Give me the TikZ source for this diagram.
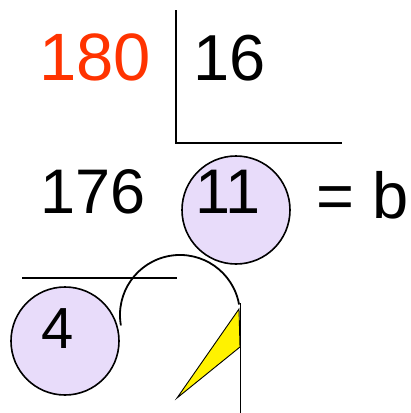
\documentclass[tikz,border=0pt]{standalone}
\usepackage{fontspec}
\setmainfont{Liberation Sans}
\usepackage{tikz}
\definecolor{dividendred}{RGB}{255,51,0}
\definecolor{bubblefill}{RGB}{232,220,250}

\begin{document}
\begin{tikzpicture}[
    x=1pt, y=-1pt,
    num/.style={anchor=base, inner sep=0pt, font=\fontsize{#1}{#1}\selectfont},
    bubble/.style={circle, draw, line width=1.6pt, fill=bubblefill, minimum size=108pt, inner sep=0pt},
    rule/.style={draw, line width=2pt},
    thin/.style={draw, line width=0.9pt}
]
  \useasboundingbox (0,0) rectangle (411,413);
  % circles behind the digits
  \node[bubble] (q) at (236,210) {};
  \node[bubble] (r) at (65,341) {};
  % division bracket
  \coordinate (top) at (176,10);
  \coordinate (corner) at (176,143);
  \coordinate (right) at (342,143);
  \draw[rule] (top) -- (corner) -- (right);
  \coordinate (subl) at (22,278);
  \coordinate (subr) at (177,278);
  \draw[rule] (subl) -- (subr);
  % numbers
  \node[num=67, text=dividendred] (dividend) at (95,80) {180};
  \node[num=65] (divisor) at (229.5,80) {16};
  \node[num=63] (product) at (93,213) {176};
  \node[num=63] (quot) at (228.3,213) {11};
  \node[num=65] (res) at (362.5,218) {= b};
  \node[num=58] (rest) at (57.5,348) {4};
  % arrow from remainder
  \coordinate (arcs) at (120.9,325.4);
  \draw[line width=1.8pt] (arcs) arc[start angle=170, end angle=350, radius=60];
  \coordinate (vt) at (240,303);
  \coordinate (vb) at (240,413);
  \draw[thin] (vt) -- (vb);
  \coordinate (tip) at (239,309);
  \coordinate (foot) at (177,398);
  \coordinate (mid) at (240,347);
  \draw[thin, fill=yellow] (tip) -- (foot) -- (mid) -- cycle;
\end{tikzpicture}
\end{document}
